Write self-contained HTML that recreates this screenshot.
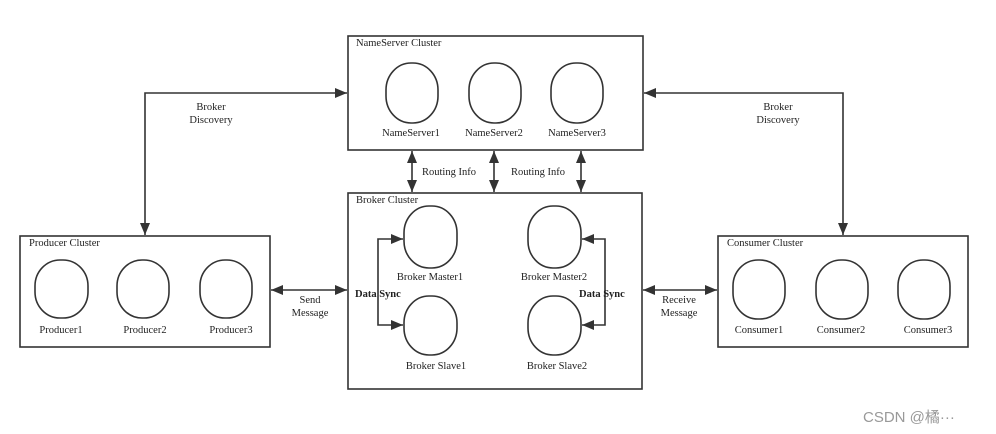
<!DOCTYPE html>
<html><head><meta charset="utf-8"><style>
html,body{margin:0;padding:0;background:#fff;}
svg{display:block;}
text{font-family:"Liberation Serif",serif;font-size:10.5px;fill:#222;}
</style></head><body>
<svg width="996" height="434" viewBox="0 0 996 434" xmlns="http://www.w3.org/2000/svg">
<defs>
<marker id="a" viewBox="0 0 12 10" refX="12" refY="5" markerWidth="12" markerHeight="10" markerUnits="userSpaceOnUse" orient="auto-start-reverse"><path d="M0,0L12,5L0,10z" fill="#333"/></marker>
</defs>
<g fill="none" stroke="#333" stroke-width="1.6">
<rect x="348" y="36" width="295" height="114"/>
<rect x="348" y="193" width="294" height="196"/>
<rect x="20" y="236" width="250" height="111"/>
<rect x="718" y="236" width="250" height="111"/>
<rect x="386" y="63" width="52" height="60" rx="25" ry="27"/>
<rect x="469" y="63" width="52" height="60" rx="25" ry="27"/>
<rect x="551" y="63" width="52" height="60" rx="25" ry="27"/>
<rect x="404" y="206" width="53" height="62" rx="25" ry="27"/>
<rect x="404" y="296" width="53" height="59" rx="25" ry="27"/>
<rect x="528" y="206" width="53" height="62" rx="25" ry="27"/>
<rect x="528" y="296" width="53" height="59" rx="25" ry="27"/>
<rect x="35" y="260" width="53" height="58" rx="25" ry="26"/>
<rect x="117" y="260" width="52" height="58" rx="25" ry="26"/>
<rect x="200" y="260" width="52" height="58" rx="25" ry="26"/>
<rect x="733" y="260" width="52" height="59" rx="25" ry="26"/>
<rect x="816" y="260" width="52" height="59" rx="25" ry="26"/>
<rect x="898" y="260" width="52" height="59" rx="25" ry="26"/>
</g>
<g fill="none" stroke="#333" stroke-width="1.6" marker-start="url(#a)" marker-end="url(#a)">
<path d="M145,235V93H347"/>
<path d="M644,93H843V235"/>
<path d="M412,151V192"/>
<path d="M494,151V192"/>
<path d="M581,151V192"/>
<path d="M271,290H347"/>
<path d="M643,290H717"/>
<path d="M403,239H378V325H403"/>
<path d="M582,239H605V325H582"/>
</g>
<text x="356" y="46">NameServer Cluster</text>
<text x="356" y="203">Broker Cluster</text>
<text x="29" y="246">Producer Cluster</text>
<text x="727" y="246">Consumer Cluster</text>
<g text-anchor="middle">
<text x="411" y="136">NameServer1</text>
<text x="494" y="136">NameServer2</text>
<text x="577" y="136">NameServer3</text>
<text x="430" y="280">Broker Master1</text>
<text x="554" y="280">Broker Master2</text>
<text x="436" y="369">Broker Slave1</text>
<text x="557" y="369">Broker Slave2</text>
<text x="61" y="333">Producer1</text>
<text x="145" y="333">Producer2</text>
<text x="231" y="333">Producer3</text>
<text x="759" y="333">Consumer1</text>
<text x="841" y="333">Consumer2</text>
<text x="928" y="333">Consumer3</text>
<text x="211" y="110">Broker</text>
<text x="211" y="123">Discovery</text>
<text x="778" y="110">Broker</text>
<text x="778" y="123">Discovery</text>
<text x="449" y="175">Routing Info</text>
<text x="538" y="175">Routing Info</text>
<text x="310" y="303">Send</text>
<text x="310" y="316">Message</text>
<text x="679" y="303">Receive</text>
<text x="679" y="316">Message</text>
</g>
<text x="355" y="297" font-weight="bold">Data Sync</text>
<text x="579" y="297" font-weight="bold">Data Sync</text>
<text x="863" y="422" style="font-family:'Liberation Sans','Noto Sans CJK SC',sans-serif;font-size:15px;fill:#999">CSDN @橘···</text>
</svg>
</body></html>
